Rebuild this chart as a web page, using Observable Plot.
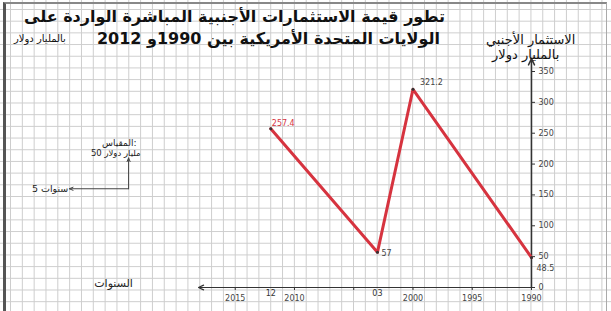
<!DOCTYPE html>
<html><head><meta charset="utf-8">
<script src="https://cdn.jsdelivr.net/npm/d3@7"></script>
<script src="https://cdn.jsdelivr.net/npm/@observablehq/plot@0.6"></script>
<style>
html,body{margin:0;padding:0;background:#fff;}
#wrap{position:relative;width:611px;height:311px;overflow:hidden;
 background-color:#fff;
 background-image:linear-gradient(to right,#cdcdcd 1px,transparent 1px),linear-gradient(to bottom,#cdcdcd 1px,transparent 1px);
 background-size:11.84px 11.7px;background-position:10px 9px;}
#frame{position:absolute;left:3px;top:2px;width:600px;height:320px;border-left:3px solid #555;border-top:2px solid #888;border-right:1px solid #aaa;}
.t{position:absolute;font-family:"DejaVu Sans",sans-serif;color:#111;white-space:nowrap;direction:rtl;}
#chart{position:absolute;left:0;top:0;}
</style></head>
<body><div id="wrap"><div id="frame"></div><div id="chart"></div>
<div class="t" style="right:166px;top:7px;font-size:16px;font-weight:bold;">تطور قيمة الاستثمارات الأجنبية المباشرة الواردة على</div>
<div class="t" style="right:171px;top:29px;font-size:16px;font-weight:bold;">الولايات المتحدة الأمريكية بين 1990و 2012</div>
<div class="t" style="left:14px;top:33px;font-size:10px;">بالمليار دولار</div>
<div class="t" style="left:486px;top:32px;font-size:13px;">الاستثمار الأجنبي</div>
<div class="t" style="left:492px;top:47px;font-size:13px;">بالمليار دولار</div>
</div>
<script>
const years = [1990, 2000, 2003, 2012];
const values = [48.5, 321.2, 57, 257.4];
const valueLabels = ["48.5", "321.2", "57", "257.4"];
const yTicks = [0, 50, 100, 150, 200, 250, 300, 350];
const xTicks = [1990, 1995, 2000, 2005, 2010, 2015];
const xTickLabels = ["1990", "1995", "2000", "", "2010", "2015"];
const extraTicks = [2003, 2012];
const extraTickLabels = ["03", "12"];
const xTitle = "السنوات";
const scaleTitle = "المقياس:";
const scaleY = "50 مليار دولار";
const scaleX = "5 سنوات";

const pts = years.map((y, i) => ({year: y, value: values[i], label: valueLabels[i]}));
const red = "#d6333f";
const ink = "#333";
const font = "DejaVu Sans, sans-serif";
const labelOffsets = [[5, 11], [7, -7], [4, 1], [1, -5]];

const chart = Plot.plot({
  width: 611, height: 311,
  marginLeft: 198, marginRight: 80, marginTop: 71, marginBottom: 24,
  style: {background: "transparent", fontFamily: font, fontSize: "8px", color: ink},
  x: {domain: [1990, 2018.1], reverse: true, label: null},
  y: {domain: [0, 350], label: null},
  marks: [
    Plot.arrow([0], {x1: 1990, y1: 0, x2: 2018.1, y2: 0, stroke: "#333", strokeWidth: 1.2, headLength: 7, headAngle: 50}),
    Plot.arrow([0], {x1: 1990, y1: 0, x2: 1990, y2: 371, stroke: "#333", strokeWidth: 1.5, headLength: 7, headAngle: 50}),
    Plot.axisY({anchor: "right", ticks: yTicks, tickSize: 3, tickPadding: 4, fill: "#444", stroke: "#333", fontSize: 8, label: null}),
    Plot.axisX({anchor: "bottom", ticks: xTicks, tickFormat: (d) => xTickLabels[xTicks.indexOf(d)], tickSize: 3, tickPadding: 5, fill: "#444", stroke: "#333", fontSize: 8, label: null}),
    Plot.text(extraTicks, {x: (d) => d, y: 0, text: (d, i) => extraTickLabels[i], dy: 6, fill: "#333", fontSize: 8}),
    Plot.line(pts, {x: "year", y: "value", stroke: red, strokeWidth: 3}),
    Plot.dot(pts, {x: "year", y: "value", r: 1.5, fill: "#333"}),
    ...pts.map((p, i) => Plot.text([p], {x: "year", y: "value", text: "label", textAnchor: "start",
      dx: labelOffsets[i][0], dy: labelOffsets[i][1], fill: p.year === 2012 ? red : "#444", fontSize: 8})),
    // scale legend drawn in the chart's own units: 50 on y, 5 years on x
    Plot.arrow([0], {x1: 2024, y1: 160, x2: 2024, y2: 210, stroke: "#444", strokeWidth: 1, headLength: 6, headAngle: 45}),
    Plot.arrow([0], {x1: 2024, y1: 160, x2: 2029, y2: 160, stroke: "#444", strokeWidth: 1, headLength: 6, headAngle: 45}),
    Plot.text([scaleTitle], {x: 2024, y: 234, text: (d) => d, textAnchor: "end", dx: 8, fontSize: 9, fill: "#222"}),
    Plot.text([scaleY], {x: 2024, y: 218, text: (d) => d, textAnchor: "end", dx: 12, fontSize: 8.5, fill: "#222"}),
    Plot.text([scaleX], {x: 2029, y: 160, text: (d) => d, textAnchor: "end", dx: -1, fontSize: 9.5, fill: "#222"}),
    Plot.text([xTitle], {x: 2024, y: 7, text: (d) => d, textAnchor: "middle", dx: -15, fontSize: 11, fill: "#222"})
  ]
});
document.getElementById("chart").appendChild(chart);
</script>
</body></html>
